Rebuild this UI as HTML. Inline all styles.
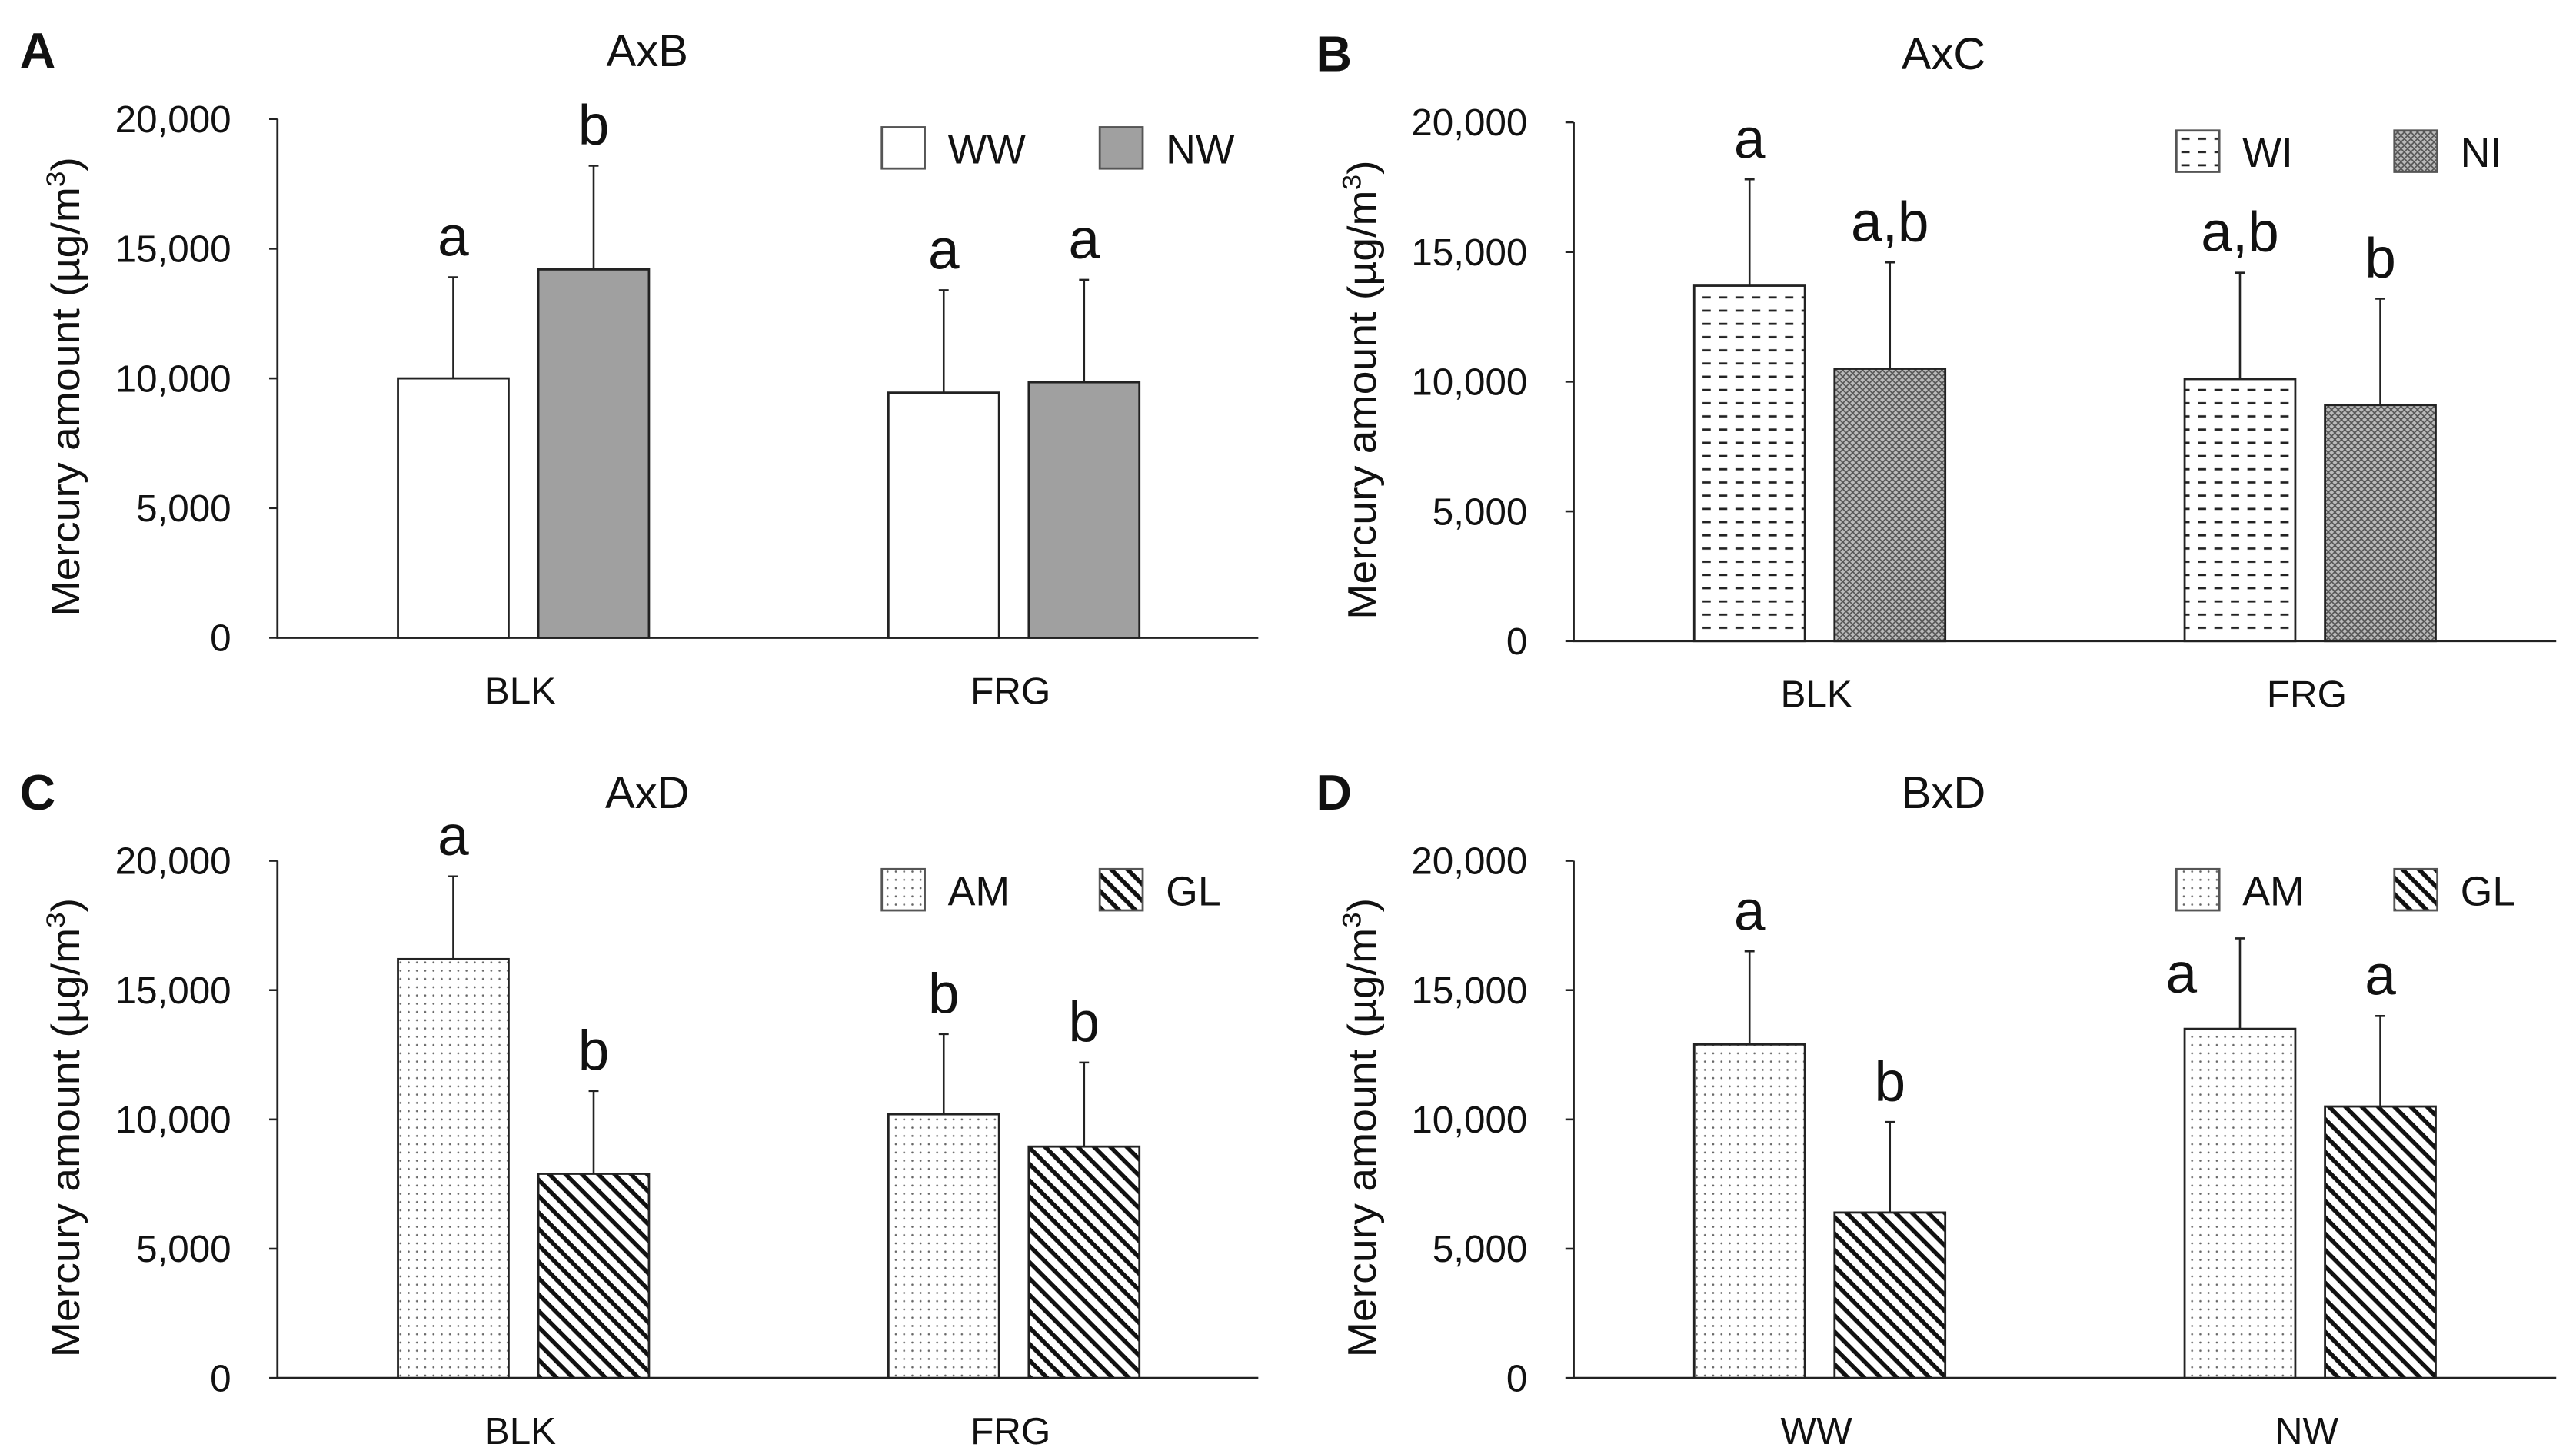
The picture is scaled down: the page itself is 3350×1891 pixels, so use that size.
<!DOCTYPE html>
<html><head><meta charset="utf-8"><style>
html,body{margin:0;padding:0;background:#fff;}
svg{display:block;}
text{font-family:"Liberation Sans",sans-serif;fill:#111;}
</style></head><body>
<svg id="fig" width="3350" height="1891" viewBox="0 0 1560 880" preserveAspectRatio="none" xmlns="http://www.w3.org/2000/svg">
<defs>
<pattern id="pWI" width="10" height="8" patternUnits="userSpaceOnUse"><rect width="10" height="8" fill="#fff"/><line x1="1" y1="4" x2="6" y2="4" stroke="#222" stroke-width="1.3"/></pattern>
<pattern id="pNI" width="4" height="4" patternUnits="userSpaceOnUse"><rect width="4" height="4" fill="#bbb"/><path d="M0,0L4,4M4,0L0,4" stroke="#555" stroke-width="0.8"/></pattern>
<pattern id="pAM" width="5" height="5" patternUnits="userSpaceOnUse"><rect width="5" height="5" fill="#fff"/><circle cx="2.5" cy="2.5" r="0.6" fill="#666"/></pattern>
<pattern id="pGL" width="7" height="7" patternUnits="userSpaceOnUse" patternTransform="rotate(45)"><rect width="7" height="7" fill="#fff"/><rect x="0" y="0" width="7" height="2.6" fill="#111"/></pattern>
</defs>
</svg>
<script>
// Panel A: AxB
const catsA=["BLK","FRG"], serA=["WW","NW"], valsA=[[10000,14200],[9450,9850]], errA=[[13900,18200],[13400,13800]], letA=[["a","b"],["a","a"]];
// Panel B: AxC
const catsB=["BLK","FRG"], serB=["WI","NI"], valsB=[[13700,10500],[10100,9100]], errB=[[17800,14600],[14200,13200]], letB=[["a","a,b"],["a,b","b"]];
// Panel C: AxD
const catsC=["BLK","FRG"], serC=["AM","GL"], valsC=[[16200,7900],[10200,8950]], errC=[[19400,11100],[13300,12200]], letC=[["a","b"],["b","b"]];
// Panel D: BxD
const catsD=["WW","NW"], serD=["AM","GL"], valsD=[[12900,6400],[13500,10500]], errD=[[16500,9900],[17000,14000]], letD=[["a","b"],["a","a"]];
const yTicks=[0,5000,10000,15000,20000];
const yTickLabels=["0","5,000","10,000","15,000","20,000"];

const NS="http://www.w3.org/2000/svg";
const svg=document.getElementById('fig');
function el(tag,attrs,parent,txt){const e=document.createElementNS(NS,tag);for(const k in attrs)e.setAttribute(k,attrs[k]);if(txt!==undefined)e.textContent=txt;(parent||svg).appendChild(e);return e;}
const fills={WW:"#fff",NW:"#a0a0a0",WI:"url(#pWI)",NI:"url(#pNI)",AM:"url(#pAM)",GL:"url(#pGL)"};

function panel(id,letter,title,ox,top,bot,xend,cats,ser,vals,errs,lets,legX,besideIdx){
  const g=el('g',{});
  
  
  const y=v=>bot-(v/20000)*(bot-top);
  const t1=el('text',{x:ox-156,y:top-31,'font-size':30,'font-weight':'bold'},g,letter);
  
  
  const t2=el('text',{x:ox+224,y:top-32,'font-size':27,'text-anchor':'middle'},g,title);
  
  
  const yl=el('text',{transform:`translate(${ox-120},${(top+bot)/2+5}) rotate(-90)`,'font-size':24,'text-anchor':'middle',textLength:278,lengthAdjust:'spacingAndGlyphs'},g);
  
  
  yl.textContent="Mercury amount (µg/m";
  el('tspan',{'font-size':16,dy:-9},yl,"3");
  el('tspan',{dy:9},yl,")");
  const ax=el('path',{d:`M${ox},${top}V${bot}H${xend}`,stroke:'#222','stroke-width':1.3,fill:'none'},g);
  
  
  yTicks.forEach((v,i)=>{
    el('line',{x1:ox-5,x2:ox,y1:y(v),y2:y(v),stroke:'#222','stroke-width':1.2},g);
    const tl=el('text',{x:ox-28,y:y(v)+8,'font-size':23,'text-anchor':'end'},g,yTickLabels[i]);
    
    
  });
  const groupStarts=[ox+73,ox+370];
  const bw=67, gap=18;
  cats.forEach((c,ci)=>{
    const gx=groupStarts[ci];
    const cl=el('text',{x:gx+bw+gap/2-2,y:bot+40,'font-size':23,'text-anchor':'middle'},g,c);
    
    
    ser.forEach((s,si)=>{
      const x=gx+si*(bw+gap), v=vals[ci][si], e=errs[ci][si], cx=x+bw/2;
      const eb=el('path',{d:`M${cx},${y(v)}V${y(e)}M${cx-3},${y(e)}H${cx+3}`,stroke:'#222','stroke-width':1.2},g);
      
      
      const r=el('rect',{x:x,y:y(v),width:bw,height:bot-y(v),fill:fills[s],stroke:'#222','stroke-width':1.3},g);
      
      
      const beside=besideIdx&&besideIdx[0]===ci&&besideIdx[1]===si;
      const lx=beside?x-2:cx, ly=beside?y(v)-22:y(e)-13;
      const lt=el('text',{x:lx,y:ly,'font-size':34,'text-anchor':'middle'},g,lets[ci][si]);
      
      
    });
  });
  ser.forEach((s,si)=>{
    const lx=legX+si*132, ly=top+5;
    const lb=el('rect',{x:lx,y:ly,width:26,height:25,fill:fills[s],stroke:'#555','stroke-width':1.3},g);
    
    
    const lt=el('text',{x:lx+40,y:ly+22,'font-size':25},g,s);
    
    
  });
}
panel('a','A','AxB',168,72,386,762,catsA,serA,valsA,errA,letA,534);
panel('b','B','AxC',953,74,388,1548,catsB,serB,valsB,errB,letB,1318);
panel('c','C','AxD',168,521,834,762,catsC,serC,valsC,errC,letC,534);
panel('d','D','BxD',953,521,834,1548,catsD,serD,valsD,errD,letD,1318,[1,0]);
</script>
</body></html>
